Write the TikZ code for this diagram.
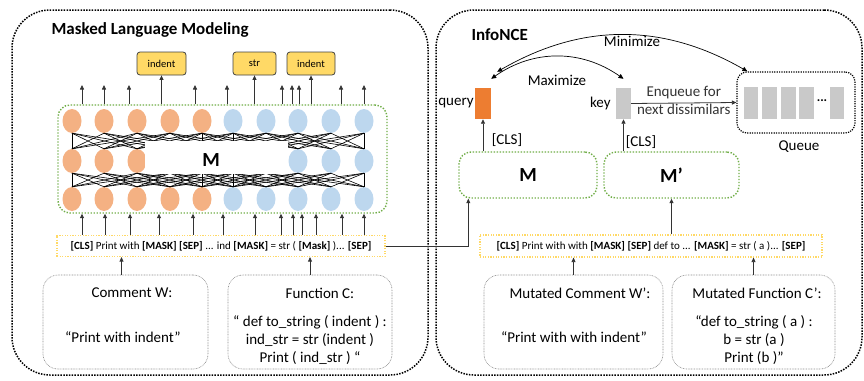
\documentclass[tikz,border=0pt]{standalone}
\usepackage{fontspec}
\setmainfont{Carlito}
\usetikzlibrary{arrows.meta, positioning, shapes.geometric, calc}
\definecolor{orangeN}{HTML}{F4B183}
\definecolor{blueN}{HTML}{BDD7EE}
\definecolor{queryC}{HTML}{ED7D31}
\definecolor{grayC}{HTML}{C9C9C9}
\definecolor{greenB}{HTML}{70AD47}
\definecolor{yellowB}{HTML}{FFD966}
\definecolor{goldC}{HTML}{FFD966}

\begin{document}
\begin{tikzpicture}[
  x=1pt, y=-1pt,
  font=\fontsize{15}{18}\selectfont,
  panel/.style={draw, line width=1.5pt, dash pattern=on 1.5pt off 1.3pt,
                rounded corners=38pt},
  srcbox/.style={draw=black!45, line width=0.6pt, dash pattern=on 0.8pt off 0.8pt,
                 rounded corners=15pt},
  greenbox/.style={draw=greenB, line width=1.4pt, dash pattern=on 1.4pt off 1.6pt,
                   rounded corners=12pt},
  inbox/.style={draw=yellowB, line width=1.2pt, dash pattern=on 1.2pt off 1.4pt,
                font=\fontsize{11}{13}\selectfont},
  outbox/.style={draw=black!75, fill=goldC, line width=0.8pt, rounded corners=3pt,
                 minimum height=23pt, font=\fontsize{10.5}{12}\selectfont},
  neuron/.style={ellipse, minimum width=19pt, minimum height=24pt, inner sep=0pt},
  vec/.style={minimum width=15pt, minimum height=31pt, inner sep=0pt},
  mesh/.style={line width=0.6pt, black},
  title/.style={font=\fontsize{17}{20}\selectfont\bfseries},
  arr/.style={-{Triangle[length=4.5pt, width=4pt]}, line width=0.8pt, black!80},
  dbl/.style={{Triangle[length=5pt, width=4.5pt]}-{Triangle[length=5pt, width=4.5pt]},
              line width=0.7pt}
]
\useasboundingbox (0,0) rectangle (864,380);

% two panels
\node[panel, minimum width=416pt, minimum height=365pt] (mlm) at (220,192.5) {};
\node[panel, minimum width=426pt, minimum height=365pt] (nce) at (649,192.5) {};
\node[title, anchor=west] at (48,30) {Masked Language Modeling};
\node[title, anchor=west] at (468,35) {InfoNCE};

% ---- masked language modeling ----
\node[greenbox, minimum width=329pt, minimum height=108pt] (net) at (222.5,159) {};

\foreach \i/\x in {1/72,2/104,3/137,4/170,5/202,6/233,7/266,8/298,9/331,10/364} {
  \ifnum\i<6 \def\ncol{orangeN}\else\def\ncol{blueN}\fi
  \node[neuron, fill=\ncol] (t\i) at (\x,121) {};
  \node[neuron, fill=\ncol] (m\i) at (\x,161) {};
  \node[neuron, fill=\ncol] (b\i) at (\x,199) {};
}
\foreach \i in {1,...,10} {
  \foreach \d in {-3,-2,-1,1,2,3} {
    \pgfmathtruncatemacro\j{\i+\d}
    \ifnum\j>0 \ifnum\j<11
      \draw[mesh] (t\i.south) -- (m\j.north);
      \draw[mesh] (m\i.south) -- (b\j.north);
    \fi\fi
  }
}
\foreach \i in {1,5,6,10} {
  \draw[mesh] (t\i.south) -- (m\i.north);
  \draw[mesh] (m\i.south) -- (b\i.north);
}
\node[fill=white, minimum width=143pt, minimum height=33pt, inner sep=0pt] (cover) at (216.5,157.5) {};
\node[font=\fontsize{20}{24}\selectfont\bfseries] (mname) at (211,160) {M};

% predicted tokens
\node[outbox, minimum width=49pt] (outA) at (161.5,63.5) {indent};
\node[outbox, minimum width=43pt] (outB) at (254.5,63.5) {str};
\node[outbox, minimum width=48pt] (outC) at (311,63.5) {indent};
\foreach \x in {82,104,129,195,227,282,292,299,341,364} {
  \coordinate (up\x) at (\x,85);
  \draw[arr] (net.north -| up\x) -- (up\x);
}
\foreach \o in {outA,outB,outC}
  \draw[arr] (net.north -| \o.south) -- (\o.south);

% masked input
\node[inbox, minimum width=328pt, minimum height=21pt] (inL) at (221,246)
  {\textbf{[CLS]} Print with \textbf{[MASK]} \textbf{[SEP]} ... ind \textbf{[MASK]} = str ( \textbf{[Mask]} )... \textbf{[SEP]}};
\foreach \x in {82,105,130,159,193,223,255,281,293,302,316,342,364} {
  \coordinate (dn\x) at (\x,230);
  \draw[arr] (inL.north -| dn\x) -- (net.south -| dn\x);
}

% source boxes
\node[srcbox, minimum width=165pt, minimum height=94pt] (cmtW) at (125.5,322) {};
\node (cmtWh) at (132,293) {Comment W:};
\node (cmtWt) at (123,337) {“Print with indent”};
\node[srcbox, minimum width=164pt, minimum height=94pt] (funC) at (310,322) {};
\node (funCh) at (320,293) {Function C:};
\node[align=center] (funCt) at (310,340)
  {“ def to\_string ( indent ) :\\ ind\_str = str (indent )\\ Print ( ind\_str ) “};
\draw[arr] ([xshift=-4pt]cmtW.north) -- ([xshift=-4pt]cmtW.north |- inL.south);
\draw[arr] (funC.north) -- (funC.north |- inL.south);

% ---- InfoNCE ----
\node[greenbox, minimum width=138pt, minimum height=46pt] (encM) at (528,175)
  {\fontsize{20}{24}\selectfont\bfseries M};
\node[greenbox, minimum width=135pt, minimum height=46pt] (encK) at (671.5,175)
  {\fontsize{20}{24}\selectfont\bfseries M’};

\node[vec, fill=queryC, minimum width=16pt] (qry) at (483,103.5) {};
\node[vec, fill=grayC] (key) at (623.5,103.5) {};
\node[inner sep=0pt, left=1pt of qry] (qlab) {query};
\node[inner sep=0pt, left=5pt of key] (klab) {key};

\draw[arr] (encM.north -| qry.south) -- (qry.south);
\draw[arr] (encK.north -| key.south) -- (key.south);
\node (clsQ) at (507,140) {[CLS]};
\node (clsK) at (641,142) {[CLS]};

% queue of negatives
\node[panel, line width=1.2pt, dash pattern=on 1.2pt off 1.2pt, rounded corners=10pt,
      minimum width=118pt, minimum height=61pt] (queue) at (796,102.5) {};
\foreach \x/\n in {751/1, 769.5/2, 788.5/3, 806.5/4, 837/5}
  \node[vec, fill=grayC, minimum width=14.5pt, minimum height=32pt] (q\n) at (\x,103) {};
\node[font=\fontsize{13}{15}\selectfont\bfseries] (qdots) at (822,101) {...};
\node (qlabel) at (799,147) {Queue};

\draw[arr] (key.east) -- (queue.west)
  node[midway, above=3pt, inner sep=1pt] {Enqueue for}
  node[midway, below, inner sep=1pt] {next dissimilars};

\draw[dbl] ([yshift=9pt]qry.north east) to[bend left=35] ([yshift=9pt]key.north);
\draw[dbl] ([xshift=6pt,yshift=16pt]qry.north east) to[bend left=30] ([xshift=11pt]queue.north west);
\node (maxlab) at (557,80) {Maximize};
\node (minlab) at (632,41) {Minimize};

% mutated input
\node[inbox, minimum width=342pt, minimum height=22pt] (inR) at (651,246)
  {\textbf{[CLS]} Print with with \textbf{[MASK]} \textbf{[SEP]} def to ... \textbf{[MASK]} = str ( a )... \textbf{[SEP]}};
\draw[arr] (inR.north -| encK.south) -- (encK.south);
\draw[arr] (inL.east) -| ([xshift=10pt]encM.south west);

\node[srcbox, minimum width=179pt, minimum height=94pt] (cmtM) at (573.5,322) {};
\node (cmtMh) at (580,293) {Mutated Comment W’:};
\node (cmtMt) at (574,337) {“Print with with indent”};
\node[srcbox, minimum width=163pt, minimum height=94pt] (funM) at (753.5,322) {};
\node (funMh) at (757,293) {Mutated Function C’:};
\node[align=center] (funMt) at (754,340)
  {“def to\_string ( a ) :\\ b = str (a )\\ Print (b )”};
\draw[arr] (cmtM.north) -- (cmtM.north |- inR.south);
\draw[arr] (funM.north) -- (funM.north |- inR.south);
\end{tikzpicture}
\end{document}
